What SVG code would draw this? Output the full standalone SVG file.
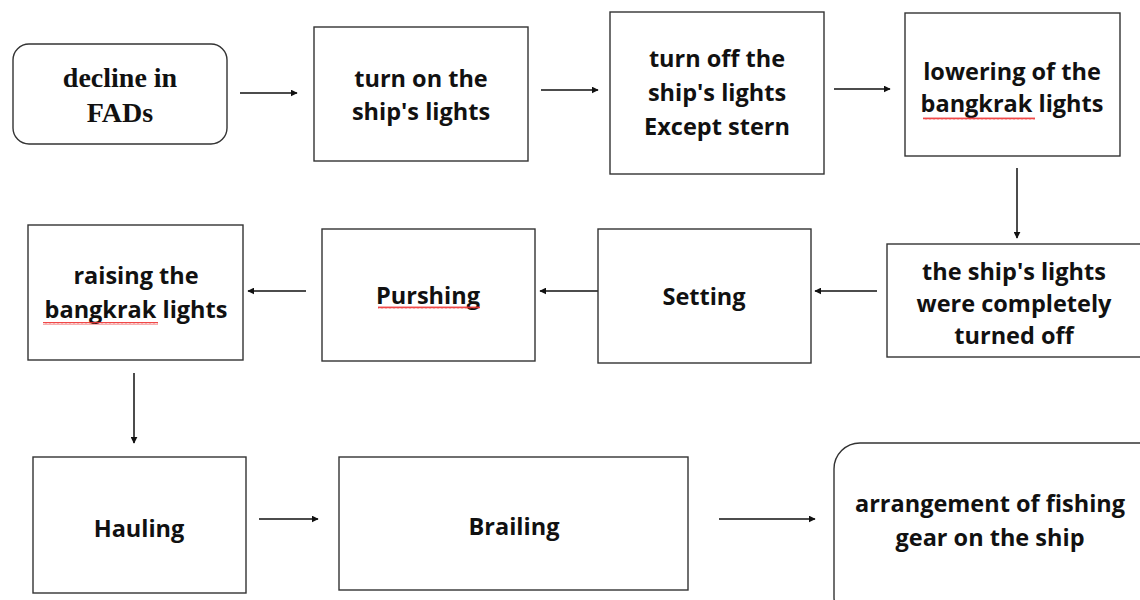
<svg xmlns="http://www.w3.org/2000/svg" width="1140" height="600" viewBox="0 0 1140 600">
<style>
.box{fill:#fff;stroke:#333;stroke-width:1.4}
.t{font-family:"Open Sans","Noto Sans","Liberation Sans",sans-serif;font-weight:700;font-size:23.5px;fill:#111;text-anchor:middle}
.s{font-family:"Liberation Serif","DejaVu Serif",serif;font-weight:700;font-size:28px;fill:#111;text-anchor:middle}
.c{stroke:#111;stroke-width:1.5;fill:none;marker-end:url(#ah)}
.sq{stroke:#e33;stroke-width:0.9;fill:none}
</style>
<defs>
<marker id="ah" viewBox="0 0 10 10" refX="9" refY="5" markerWidth="7" markerHeight="7" markerUnits="userSpaceOnUse" orient="auto">
<path d="M0,0 L10,5 L0,10 z" fill="#111"/>
</marker>
<pattern id="wave" width="4" height="3" patternUnits="userSpaceOnUse">
<path d="M0,2.5 L1,0.5 L2,2.5 L3,0.5 L4,2.5" class="sq"/>
</pattern>
</defs>
<rect width="1140" height="600" fill="#fff"/>

<g id="connectors">
<line class="c" x1="240" y1="93" x2="297" y2="93"/>
<line class="c" x1="541" y1="90" x2="598" y2="90"/>
<line class="c" x1="834" y1="89" x2="890" y2="89"/>
<line class="c" x1="1017" y1="168" x2="1017" y2="238"/>
<line class="c" x1="877" y1="291" x2="815" y2="291"/>
<line class="c" x1="600" y1="291" x2="540" y2="291"/>
<line class="c" x1="306" y1="291" x2="248" y2="291"/>
<line class="c" x1="134" y1="373" x2="134" y2="443"/>
<line class="c" x1="259" y1="519" x2="318" y2="519"/>
<line class="c" x1="719" y1="519" x2="815" y2="519"/>
</g>

<g id="n1">
<rect class="box" x="13" y="44" width="214" height="100" rx="16"/>
<text class="s" x="120" y="87">decline in</text>
<text class="s" x="120" y="122">FADs</text>
</g>
<g id="n2">
<rect class="box" x="314" y="27" width="214" height="134"/>
<text class="t" x="421" y="87">turn on the</text>
<text class="t" x="421" y="120">ship's lights</text>
</g>
<g id="n3">
<rect class="box" x="610" y="12" width="214" height="162"/>
<text class="t" x="717" y="67">turn off the</text>
<text class="t" x="717" y="101">ship's lights</text>
<text class="t" x="717" y="135">Except stern</text>
</g>
<g id="n4">
<rect class="box" x="905" y="13" width="215" height="143"/>
<text class="t" x="1012" y="80">lowering of the</text>
<text class="t" x="1012" y="112">bangkrak lights</text>
<rect x="923" y="117" width="112" height="3" fill="url(#wave)"/>
</g>
<g id="n5">
<rect class="box" x="887" y="244" width="270" height="113"/>
<text class="t" x="1014" y="280">the ship's lights</text>
<text class="t" x="1014" y="312">were completely</text>
<text class="t" x="1014" y="344">turned off</text>
</g>
<g id="n6">
<rect class="box" x="598" y="229" width="213" height="134"/>
<text class="t" x="704" y="305">Setting</text>
</g>
<g id="n7">
<rect class="box" x="322" y="229" width="213" height="132"/>
<text class="t" x="428" y="304">Purshing</text>
<rect x="378" y="306" width="102" height="3" fill="url(#wave)"/>
</g>
<g id="n8">
<rect class="box" x="28" y="225" width="215" height="135"/>
<text class="t" x="136" y="284">raising the</text>
<text class="t" x="136" y="318">bangkrak lights</text>
<rect x="43" y="322" width="115" height="3" fill="url(#wave)"/>
</g>
<g id="n9">
<rect class="box" x="33" y="457" width="213" height="136"/>
<text class="t" x="139" y="537">Hauling</text>
</g>
<g id="n10">
<rect class="box" x="339" y="457" width="349" height="133"/>
<text class="t" x="514" y="535">Brailing</text>
</g>
<g id="n11">
<rect class="box" x="834" y="443" width="330" height="180" rx="26"/>
<text class="t" x="990" y="512">arrangement of fishing</text>
<text class="t" x="990" y="546">gear on the ship</text>
</g>
</svg>
